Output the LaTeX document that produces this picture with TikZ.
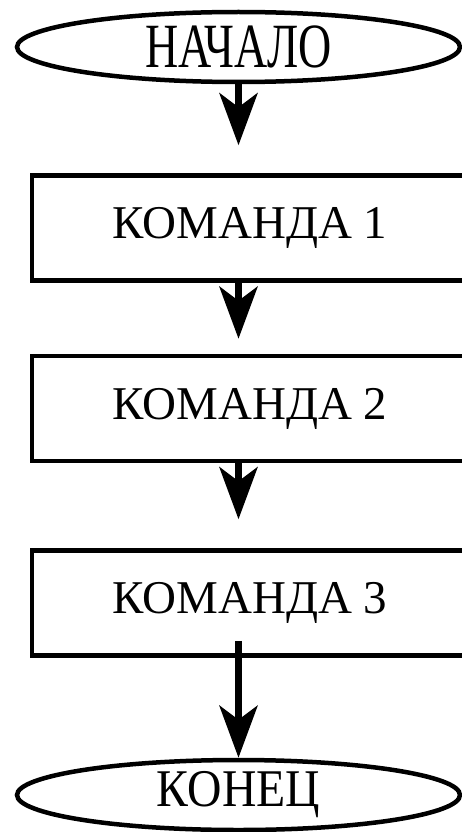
\documentclass[tikz,border=0pt]{standalone}
\usepackage{graphicx}
\usepackage{fontspec}
\setmainfont{Liberation Serif}
\usetikzlibrary{positioning, shapes.geometric, arrows.meta}

\begin{document}
\begin{tikzpicture}[x = 1pt, y = -1pt, line width = 4.5pt,
		terminal/.style={ellipse, draw, inner sep = 0pt, minimum width = 443pt, minimum height = 70pt},
		command/.style={rectangle, draw, inner sep = 0pt, minimum width = 436pt, minimum height = 105pt, font = \fontsize{47}{50}\selectfont},
		arrow/.style={-{Stealth[length = 52pt, width = 38pt, inset = 14pt]}, line width = 7pt}
	]
	\clip (0, 0) rectangle (462, 832);
	
	\node[terminal] (start) at (238.5, 47) {\fontsize{63}{66}\selectfont\scalebox{0.73}[1]{НАЧАЛО}};
	
	\node[command, below = 89pt of start, xshift = 11.5pt] (cmd1) {КОМАНДА 1};
	\node[command, below = 71pt of cmd1] (cmd2) {КОМАНДА 2};
	\node[command, below = 85pt of cmd2] (cmd3) {КОМАНДА 3};
	
	\node[terminal, below = 100pt of cmd3, xshift = -11.5pt] (stop) {\fontsize{53}{56}\selectfont\scalebox{0.9}[1]{КОНЕЦ}};
	
	\draw[arrow, shorten >= 28pt] (start.south) -- (start.south |- cmd1.north);
	\draw[arrow, shorten >= 15pt] (start.south |- cmd1.south) -- (start.south |- cmd2.north);
	\draw[arrow, shorten >= 29pt] (start.south |- cmd2.south) -- (start.south |- cmd3.north);
	\draw[arrow] ([yshift = 17pt]start.south |- cmd3.south) -- (stop.north);
	
\end{tikzpicture}
\end{document}
